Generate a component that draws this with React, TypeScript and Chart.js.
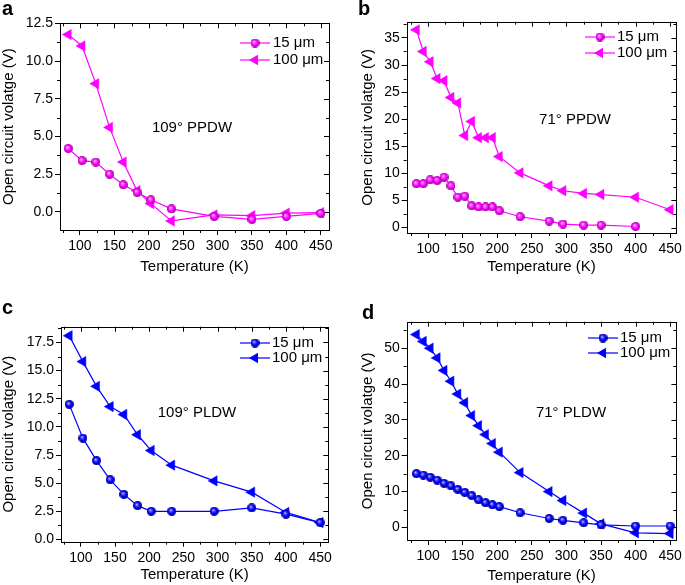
import React, { useEffect, useRef } from 'react';
import { Chart, registerables } from 'chart.js';

Chart.register(...registerables);
Chart.defaults.font.family = '"Liberation Sans", Arial, Helvetica, sans-serif';
Chart.defaults.color = '#000';

// ---------------- data ----------------
const panelLetters = ['a', 'b', 'c', 'd'];
const panelTitles = ['109° PPDW', '71° PPDW', '109° PLDW', '71° PLDW'];
const seriesLabels = ['15 μm', '100 μm'];
const xTitle = 'Temperature (K)';
const yTitle = 'Open circuit volatge (V)';

const xTickValues = [100, 150, 200, 250, 300, 350, 400, 450];

// a: 109° PPDW
const tempsA = [83, 103, 123, 143, 163, 183, 203, 233, 295, 350, 400, 450];
const voc15A = [4.2, 3.4, 3.3, 2.5, 1.8, 1.3, 0.8, 0.2, -0.3, -0.5, -0.3, -0.1];
const voc100A = [11.75, 11.0, 8.5, 5.6, 3.3, 1.4, 0.55, -0.6, -0.2, -0.25, -0.08, -0.05];
const yTicksA = [0, 2.5, 5, 7.5, 10, 12.5];

// b: 71° PPDW
const temps15B = [83, 93, 103, 113, 123, 133, 143, 153, 163, 173, 183, 193, 203, 233, 275, 295, 325, 350, 400];
const voc15B = [8.1, 8.1, 8.8, 8.7, 9.3, 7.7, 5.6, 5.8, 4.0, 3.8, 3.8, 3.8, 3.1, 2.0, 1.2, 0.65, 0.45, 0.45, 0.2];
const temps100B = [83, 93, 103, 113, 123, 133, 143, 153, 163, 173, 183, 193, 203, 233, 275, 295, 325, 350, 400, 450];
const voc100B = [36.5, 32.5, 30.6, 27.5, 27.1, 24.0, 23.0, 17.0, 19.6, 16.6, 16.6, 16.6, 13.1, 10.1, 7.7, 6.8, 6.3, 6.1, 5.6, 3.3];
const yTicksB = [0, 5, 10, 15, 20, 25, 30, 35];

// c: 109° PLDW
const tempsC = [83, 103, 123, 143, 163, 183, 203, 233, 295, 350, 400, 450];
const voc15C = [12.0, 9.0, 7.0, 5.3, 4.0, 3.0, 2.5, 2.5, 2.5, 2.8, 2.25, 1.5];
const voc100C = [18.1, 15.8, 13.6, 11.8, 11.1, 9.3, 7.9, 6.6, 5.2, 4.2, 2.4, 1.5];
const yTicksC = [0, 2.5, 5, 7.5, 10, 12.5, 15, 17.5];

// d: 71° PLDW
const tempsD = [83, 93, 103, 113, 123, 133, 143, 153, 163, 173, 183, 193, 203, 233, 275, 295, 325, 350, 400, 450];
const voc15D = [15.0, 14.6, 14.0, 13.2, 12.3, 11.6, 10.6, 9.8, 8.9, 7.7, 6.9, 6.3, 5.8, 4.1, 2.5, 2.0, 1.3, 0.7, 0.4, 0.4];
const voc100D = [53.8, 51.9, 50.0, 47.3, 43.8, 40.8, 37.2, 34.8, 31.2, 28.4, 25.9, 23.4, 21.0, 15.3, 10.0, 7.5, 4.0, 1.0, -1.5, -1.7];
const yTicksD = [0, 10, 20, 30, 40, 50];

// ---------------- layout / style ----------------
type Panel = {
  letter: string; title: string;
  x15: number[]; y15: number[]; x100: number[]; y100: number[];
  yTicks: number[]; yDec: number; yMin: number; yMax: number; yMinor: number;
  xMin: number; xMax: number;
  color: string; light: string; dark: string;
  box: { left: number; top: number; w: number; h: number };
  area: { padL: number; yW: number; padT: number; padR: number; xH: number; padB: number };
  legend: { x0: number; x1: number; tx: number; r1: number; r2: number };
  note: { x: number; y: number };
  letterPos: { x: number; y: number };
};

const MAG = { color: '#ff00ff', light: '#ff70ff', dark: '#9a009a' };
const BLU = { color: '#0000ff', light: '#6a6aff', dark: '#00008a' };

const panels: Panel[] = [
  {
    letter: panelLetters[0], title: panelTitles[0],
    x15: tempsA, y15: voc15A, x100: tempsA, y100: voc100A,
    yTicks: yTicksA, yDec: 1, yMin: -1.2, yMax: 12.5, yMinor: 1.25,
    xMin: 71, xMax: 462, ...MAG,
    box: { left: 0, top: 0, w: 342, h: 292 },
    area: { padL: 0, yW: 60, padT: 23.3, padR: 13, xH: 46, padB: 16 },
    legend: { x0: 240, x1: 270, tx: 273, r1: 43, r2: 60 },
    note: { x: 192, y: 128 },
    letterPos: { x: 2, y: 15 },
  },
  {
    letter: panelLetters[1], title: panelTitles[1],
    x15: temps15B, y15: voc15B, x100: temps100B, y100: voc100B,
    yTicks: yTicksB, yDec: 0, yMin: -1, yMax: 38, yMinor: 2.5,
    xMin: 69, xMax: 459, ...MAG,
    box: { left: 342, top: 0, w: 343, h: 292 },
    area: { padL: 17.3, yW: 47.4, padT: 21.7, padR: 7, xH: 42.7, padB: 16.3 },
    legend: { x0: 243, x1: 273, tx: 275, r1: 37, r2: 53 },
    note: { x: 233, y: 120 },
    letterPos: { x: 16, y: 15 },
  },
  {
    letter: panelLetters[2], title: panelTitles[2],
    x15: tempsC, y15: voc15C, x100: tempsC, y100: voc100C,
    yTicks: yTicksC, yDec: 1, yMin: -0.2, yMax: 18.9, yMinor: 1.25,
    xMin: 71, xMax: 462, ...BLU,
    box: { left: 0, top: 292, w: 342, h: 293 },
    area: { padL: 0, yW: 61, padT: 34.7, padR: 13.7, xH: 42.3, padB: 1 },
    legend: { x0: 240, x1: 270, tx: 272, r1: 51, r2: 66 },
    note: { x: 197, y: 121 },
    letterPos: { x: 2, y: 22 },
  },
  {
    letter: panelLetters[3], title: panelTitles[3],
    x15: tempsD, y15: voc15D, x100: tempsD, y100: voc100D,
    yTicks: yTicksD, yDec: 0, yMin: -3.5, yMax: 57.4, yMinor: 5,
    xMin: 69, xMax: 459, ...BLU,
    box: { left: 342, top: 292, w: 343, h: 293 },
    area: { padL: 17.3, yW: 47.4, padT: 29.7, padR: 7, xH: 45, padB: 0 },
    legend: { x0: 246, x1: 276, tx: 278, r1: 46, r2: 61 },
    note: { x: 229, y: 121 },
    letterPos: { x: 20, y: 27 },
  },
];

const FONT = '"Liberation Sans", Arial, Helvetica, sans-serif';
const SPHERE_D = 9;
const TRI_R = 6;

function makeSphere(color: string, light: string, dark: string, d: number) {
  const c = document.createElement('canvas');
  c.width = d; c.height = d;
  const g = c.getContext('2d')!;
  const r = d / 2;
  const grad = g.createRadialGradient(r * 0.75, r * 0.7, 0, r, r, r);
  grad.addColorStop(0, '#ffffff');
  grad.addColorStop(0.22, light);
  grad.addColorStop(0.6, color);
  grad.addColorStop(1, dark);
  g.fillStyle = grad;
  g.beginPath();
  g.arc(r, r, r, 0, Math.PI * 2);
  g.fill();
  return c;
}

function drawLeftTri(ctx: CanvasRenderingContext2D, x: number, y: number, r: number) {
  let rad = -Math.PI / 2;
  ctx.beginPath();
  ctx.moveTo(x + Math.sin(rad) * r, y - Math.cos(rad) * r);
  rad += (2 * Math.PI) / 3;
  ctx.lineTo(x + Math.sin(rad) * r, y - Math.cos(rad) * r);
  rad += (2 * Math.PI) / 3;
  ctx.lineTo(x + Math.sin(rad) * r, y - Math.cos(rad) * r);
  ctx.closePath();
  ctx.fill();
}

const al = (v: number) => Math.round(v) + 0.5;

function makePlugin(p: Panel, sphere: HTMLCanvasElement) {
  return {
    id: 'frame_' + p.letter,
    beforeDatasetsDraw(chart: any) {
      const { ctx, chartArea: a } = chart;
      const x = chart.scales.x;
      const y = chart.scales.y;
      ctx.save();
      ctx.strokeStyle = '#000';
      ctx.lineWidth = 1;
      ctx.strokeRect(al(a.left), al(a.top), Math.round(a.right) - Math.round(a.left), Math.round(a.bottom) - Math.round(a.top));
      ctx.beginPath();
      // x minor + top mirrored ticks
      for (let v = Math.ceil(p.xMin / 25) * 25; v <= p.xMax; v += 25) {
        const px = al(x.getPixelForValue(v));
        const major = v % 50 === 0;
        if (!major) {
          ctx.moveTo(px, a.bottom); ctx.lineTo(px, a.bottom + 3);
        }
        ctx.moveTo(px, a.top); ctx.lineTo(px, a.top + (major ? 5 : 3));
      }
      const majorStep = p.yTicks[1] - p.yTicks[0];
      for (let k = Math.ceil(p.yMin / p.yMinor); k * p.yMinor <= p.yMax + 1e-9; k++) {
        const v = k * p.yMinor;
        const py = al(y.getPixelForValue(v));
        const major = Math.abs(v / majorStep - Math.round(v / majorStep)) < 1e-6;
        if (!major) {
          ctx.moveTo(a.left, py); ctx.lineTo(a.left - 3, py);
        }
        ctx.moveTo(a.right, py); ctx.lineTo(a.right - (major ? 5 : 3), py);
      }
      ctx.stroke();
      ctx.restore();
    },
    afterDraw(chart: any) {
      const { ctx } = chart;
      ctx.save();
      ctx.fillStyle = '#000';
      ctx.font = `15px ${FONT}`;
      ctx.textAlign = 'center';
      ctx.textBaseline = 'middle';
      ctx.fillText(p.title, p.note.x, p.note.y);

      const rows = [p.legend.r1, p.legend.r2];
      rows.forEach((ry, i) => {
        ctx.strokeStyle = p.color;
        ctx.lineWidth = 1.2;
        ctx.beginPath();
        ctx.moveTo(p.legend.x0, ry);
        ctx.lineTo(p.legend.x1, ry);
        ctx.stroke();
        const mx = (p.legend.x0 + p.legend.x1) / 2;
        if (i === 0) {
          ctx.drawImage(sphere, mx - SPHERE_D / 2, ry - SPHERE_D / 2, SPHERE_D, SPHERE_D);
        } else {
          ctx.fillStyle = p.color;
          drawLeftTri(ctx, mx, ry, TRI_R);
        }
        ctx.fillStyle = '#000';
        ctx.textAlign = 'left';
        ctx.font = `15px ${FONT}`;
        ctx.fillText(seriesLabels[i], p.legend.tx, ry);
      });

      ctx.font = `bold 20px ${FONT}`;
      ctx.textAlign = 'left';
      ctx.textBaseline = 'alphabetic';
      ctx.fillStyle = '#000';
      ctx.fillText(p.letter, p.letterPos.x, p.letterPos.y);
      ctx.restore();
    },
  };
}

function PanelChart({ p }: { p: Panel }) {
  const ref = useRef<HTMLCanvasElement | null>(null);
  useEffect(() => {
    if (!ref.current) return;
    const sphere = makeSphere(p.color, p.light, p.dark, SPHERE_D);
    const gridOpts = {
      display: true, drawOnChartArea: false, drawTicks: true, tickLength: 5, color: '#000', lineWidth: 1,
    };
    const chart = new Chart(ref.current, {
      type: 'line',
      data: {
        datasets: [
          {
            label: seriesLabels[0],
            data: p.x15.map((x, i) => ({ x, y: p.y15[i] })),
            borderColor: p.color,
            backgroundColor: p.color,
            borderWidth: 1.2,
            pointStyle: sphere as any,
            pointRadius: SPHERE_D / 2,
            pointHoverRadius: SPHERE_D / 2,
            tension: 0,
            clip: false as any,
          },
          {
            label: seriesLabels[1],
            data: p.x100.map((x, i) => ({ x, y: p.y100[i] })),
            borderColor: p.color,
            backgroundColor: p.color,
            pointBackgroundColor: p.color,
            pointBorderColor: p.color,
            pointBorderWidth: 0.5,
            borderWidth: 1.2,
            pointStyle: 'triangle',
            pointRotation: -90,
            pointRadius: TRI_R,
            pointHoverRadius: TRI_R,
            tension: 0,
            clip: false as any,
          },
        ],
      },
      options: {
        animation: false,
        responsive: false,
        maintainAspectRatio: false,
        events: [],
        layout: { padding: { left: p.area.padL, top: p.area.padT, right: p.area.padR, bottom: p.area.padB } },
        plugins: { legend: { display: false }, tooltip: { enabled: false } },
        scales: {
          x: {
            type: 'linear',
            min: p.xMin,
            max: p.xMax,
            afterBuildTicks: (s: any) => { s.ticks = xTickValues.map((v) => ({ value: v })); },
            afterFit: (s: any) => { s.height = p.area.xH; },
            ticks: { font: { size: 14 }, padding: 3, color: '#000', maxRotation: 0, autoSkip: false, callback: (v: any) => String(v) },
            grid: gridOpts,
            border: { display: false },
            title: { display: true, text: xTitle, font: { size: 15 }, padding: 0, color: '#000' },
          },
          y: {
            type: 'linear',
            min: p.yMin,
            max: p.yMax,
            afterBuildTicks: (s: any) => { s.ticks = p.yTicks.map((v) => ({ value: v })); },
            afterFit: (s: any) => { s.width = p.area.yW; },
            ticks: { font: { size: 14 }, padding: 2, color: '#000', autoSkip: false, callback: (v: any) => Number(v).toFixed(p.yDec) },
            grid: gridOpts,
            border: { display: false },
            title: { display: true, text: yTitle, font: { size: 15 }, padding: 0, color: '#000' },
          },
        },
      },
      plugins: [makePlugin(p, sphere)],
    } as any);
    return () => chart.destroy();
  }, [p]);
  return (
    <canvas
      ref={ref}
      width={p.box.w}
      height={p.box.h}
      style={{ position: 'absolute', left: p.box.left, top: p.box.top, width: p.box.w, height: p.box.h }}
    />
  );
}

export default function App() {
  return (
    <div style={{ position: 'absolute', left: 0, top: 0, width: 685, height: 585, background: '#fff', overflow: 'hidden' }}>
      {panels.map((p) => (
        <PanelChart key={p.letter} p={p} />
      ))}
    </div>
  );
}
